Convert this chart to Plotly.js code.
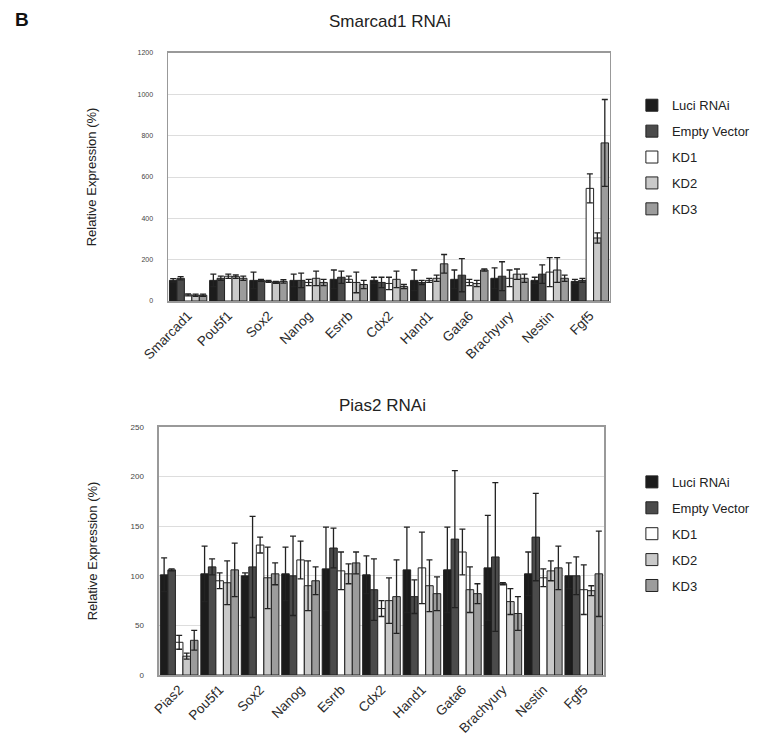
<!DOCTYPE html>
<html>
<head>
<meta charset="utf-8">
<script src="https://cdn.plot.ly/plotly-3.0.1.min.js"></script>
<style>html,body{margin:0;padding:0;background:#fff;}#chart{width:783px;height:740px;}</style>
</head>
<body>
<div id="chart"></div>
<script>
// ---------- data ----------
const seriesNames = ['Luci RNAi', 'Empty Vector', 'KD1', 'KD2', 'KD3'];

// Smarcad1 RNAi
const genesTop = ['Smarcad1', 'Pou5f1', 'Sox2', 'Nanog', 'Esrrb', 'Cdx2', 'Hand1', 'Gata6', 'Brachyury', 'Nestin', 'Fgf5'];
const topLuci  = [100, 100, 100, 100, 105, 100, 100, 105, 110, 100, 95];
const topEV    = [110, 110, 100, 100, 115, 90, 90, 125, 120, 130, 100];
const topKD1   = [30, 120, 95, 90, 105, 85, 100, 90, 110, 140, 545];
const topKD2   = [28, 118, 90, 110, 90, 105, 110, 85, 130, 150, 305];
const topKD3   = [28, 110, 95, 90, 80, 70, 180, 150, 110, 110, 765];
const topLuciErr = [8, 30, 40, 30, 45, 15, 50, 45, 50, 15, 10];
const topEVErr   = [8, 10, 5, 35, 30, 25, 10, 80, 70, 45, 10];
const topKD1Err  = [5, 10, 5, 15, 15, 30, 10, 15, 40, 70, 70];
const topKD2Err  = [5, 8, 5, 35, 50, 40, 15, 15, 25, 60, 25];
const topKD3Err  = [5, 10, 8, 15, 20, 10, 45, 5, 20, 15, 210];

// Pias2 RNAi
const genesBot = ['Pias2', 'Pou5f1', 'Sox2', 'Nanog', 'Esrrb', 'Cdx2', 'Hand1', 'Gata6', 'Brachyury', 'Nestin', 'Fgf5'];
const botLuci  = [101, 102, 100, 102, 107, 101, 106, 106, 108, 102, 100];
const botEV    = [106, 109, 109, 100, 128, 86, 79, 137, 119, 139, 100];
const botKD1   = [33, 95, 131, 116, 105, 67, 108, 124, 92, 98, 86];
const botKD2   = [19, 93, 98, 90, 102, 75, 90, 86, 74, 105, 85];
const botKD3   = [35, 106, 102, 95, 113, 79, 82, 82, 62, 108, 102];
const botLuciErr = [17, 28, 3, 27, 42, 19, 43, 43, 53, 22, 13];
const botEVErr   = [1, 8, 51, 40, 20, 31, 17, 69, 75, 44, 19];
const botKD1Err  = [7, 8, 8, 19, 19, 8, 36, 23, 1, 9, 25];
const botKD2Err  = [3, 22, 31, 25, 10, 23, 26, 23, 13, 10, 5];
const botKD3Err  = [10, 27, 11, 14, 11, 37, 17, 10, 17, 22, 43];

// ---------- styles ----------
const fills = ['#1c1c1c', '#4b4b4b', '#ffffff', '#c9c9c9', '#9c9c9c'];
const FONT = 'Liberation Sans, Arial, sans-serif';

function makeTraces(cats, vals, errs, xa, ya, legendId) {
  return vals.map((v, i) => ({
    type: 'bar',
    name: seriesNames[i],
    x: cats,
    y: v,
    xaxis: xa,
    yaxis: ya,
    legend: legendId,
    legendgroup: legendId + i,
    marker: {color: fills[i], line: {color: '#222', width: 1}},
    error_y: {type: 'data', array: errs[i], visible: true, color: '#222', thickness: 1.3, width: 3}
  }));
}

const traces = [].concat(
  makeTraces(genesTop, [topLuci, topEV, topKD1, topKD2, topKD3],
             [topLuciErr, topEVErr, topKD1Err, topKD2Err, topKD3Err], 'x', 'y', 'legend'),
  makeTraces(genesBot, [botLuci, botEV, botKD1, botKD2, botKD3],
             [botLuciErr, botEVErr, botKD1Err, botKD2Err, botKD3Err], 'x2', 'y2', 'legend2')
);

const xCommon = {
  type: 'category', tickangle: -45, showline: true, linecolor: '#999', linewidth: 1.5,
  mirror: true, ticks: '', tickfont: {family: FONT, size: 13.5, color: '#2a2a2a'}, showgrid: false
};
const yCommon = {
  showline: true, linecolor: '#999', linewidth: 1.5, mirror: true,
  gridcolor: '#dddddd', gridwidth: 1, zeroline: false,
  ticks: 'outside', ticklen: 12, tickcolor: 'rgba(0,0,0,0)',
  tickfont: {family: FONT, size: 7, color: '#444'}
};

const legendCommon = {
  font: {family: FONT, size: 13, color: '#222'},
  bgcolor: 'rgba(0,0,0,0)', traceorder: 'grouped', tracegroupgap: 6,
  itemwidth: 30, xanchor: 'left', yanchor: 'top'
};

const layout = {
  width: 783, height: 740,
  margin: {l: 0, r: 0, t: 0, b: 0},
  paper_bgcolor: '#fff', plot_bgcolor: '#fff',
  barmode: 'group', bargap: 0.07, bargroupgap: 0,
  font: {family: FONT, color: '#222'},
  xaxis: Object.assign({}, xCommon, {domain: [0.2146, 0.779], anchor: 'y'}),
  yaxis: Object.assign({}, yCommon, {domain: [0.5932, 0.9284], anchor: 'x', range: [0, 1200],
    dtick: 200, title: {text: 'Relative Expression (%)', font: {family: FONT, size: 13, color: '#222'}, standoff: 38}}),
  xaxis2: Object.assign({}, xCommon, {domain: [0.203, 0.7714], anchor: 'y2'}),
  yaxis2: Object.assign({}, yCommon, {domain: [0.0878, 0.4230], anchor: 'x2', range: [0, 250],
    dtick: 50, tickfont: {family: FONT, size: 8, color: '#444'},
    title: {text: 'Relative Expression (%)', font: {family: FONT, size: 13, color: '#222'}, standoff: 30}}),
  legend: Object.assign({}, legendCommon, {x: 0.807, y: 0.878}),
  legend2: Object.assign({}, legendCommon, {x: 0.807, y: 0.369}),
  annotations: [
    {text: '<b>B</b>', xref: 'paper', yref: 'paper', x: 0.016, y: 0.974, xanchor: 'left', yanchor: 'middle',
     showarrow: false, font: {family: FONT, size: 19, color: '#111'}},
    {text: 'Smarcad1 RNAi', xref: 'paper', yref: 'paper', x: 0.498, y: 0.971, xanchor: 'center', yanchor: 'middle',
     showarrow: false, font: {family: FONT, size: 17, color: '#222'}},
    {text: 'Pias2 RNAi', xref: 'paper', yref: 'paper', x: 0.489, y: 0.452, xanchor: 'center', yanchor: 'middle',
     showarrow: false, font: {family: FONT, size: 17, color: '#222'}}
  ]
};

Plotly.newPlot('chart', traces, layout, {displayModeBar: false, staticPlot: true});
</script>
</body>
</html>
